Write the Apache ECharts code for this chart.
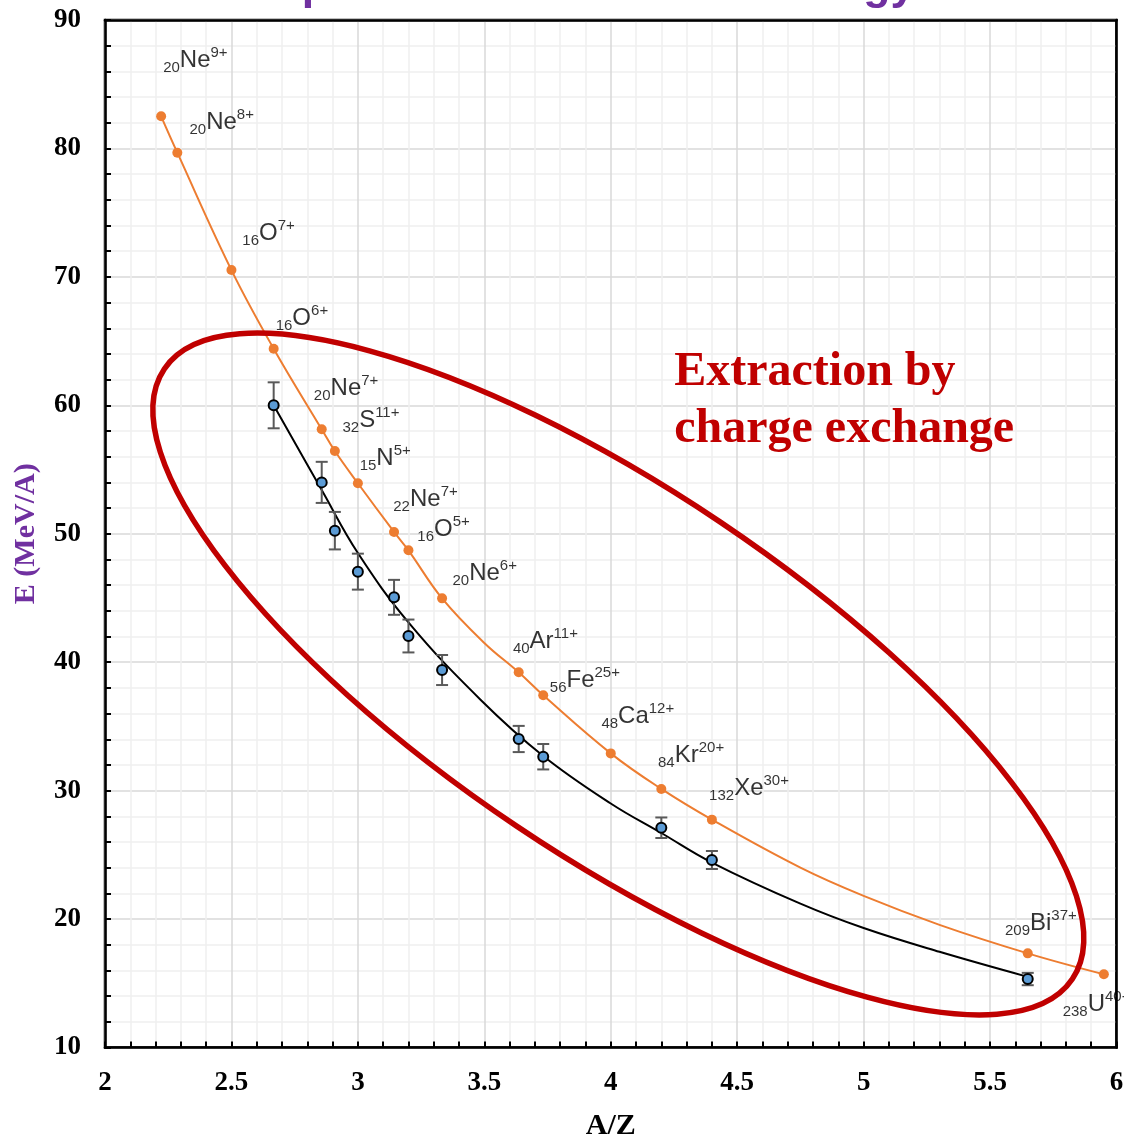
<!DOCTYPE html>
<html><head><meta charset="utf-8">
<script src="https://cdn.jsdelivr.net/npm/echarts@6/dist/echarts.min.js"></script>
<style>html,body{margin:0;padding:0;background:#fff}#c{width:1124px;height:1139px}</style>
</head><body><div id="c"></div>
<script>
// Accelerated beam (orange markers): A/Z and energy
const orangeAZ = [2.222, 2.286, 2.5, 2.667, 2.857, 2.909, 3.0, 3.143, 3.2, 3.333, 3.636, 3.733, 4.0, 4.2, 4.4, 5.649, 5.95];
const orangeE  = [82.5, 79.67, 70.53, 64.41, 58.13, 56.44, 53.93, 50.14, 48.71, 44.97, 39.21, 37.42, 32.9, 30.13, 27.74, 17.33, 15.7];
// Orange smoothed curve
const orangeCurveAZ = [2.222, 2.286, 2.5, 2.667, 2.857, 2.909, 3.0, 3.143, 3.2, 3.333, 3.5, 3.636, 3.733, 4.0, 4.2, 4.4, 4.75, 5.0, 5.3, 5.649, 5.95];
const orangeCurveE  = [82.5, 79.67, 70.53, 64.41, 58.13, 56.44, 53.93, 50.14, 48.71, 44.97, 41.5, 39.21, 37.42, 32.9, 30.13, 27.74, 24.0, 21.8, 19.55, 17.33, 15.7];
// Measured extraction by charge exchange (blue points with error bars)
const measAZ  = [2.667, 2.857, 2.909, 3.0, 3.143, 3.2, 3.333, 3.636, 3.733, 4.2, 4.4, 5.649];
const measE   = [60.0, 54.0, 50.24, 47.05, 45.05, 42.04, 39.39, 34.02, 32.64, 27.11, 24.6, 15.33];
const measErr = [1.79, 1.6, 1.46, 1.4, 1.36, 1.28, 1.17, 1.02, 0.99, 0.8, 0.7, 0.48];
// Trend curve through measured points
const fitAZ = [2.667, 2.857, 3.0, 3.2, 3.484, 3.733, 4.0, 4.2, 4.4, 4.75, 5.0, 5.3, 5.649];
const fitE  = [60.0, 53.4, 48.5, 43.1, 37.1, 32.7, 29.0, 26.7, 24.4, 21.2, 19.3, 17.45, 15.5];
// Ion labels (as placed in the picture)
const labelMass   = ['20','20','16','16','20','32','15','22','16','20','40','56','48','84','132','209','238'];
const labelElem   = ['Ne','Ne','O','O','Ne','S','N','Ne','O','Ne','Ar','Fe','Ca','Kr','Xe','Bi','U'];
const labelCharge = ['9+','8+','7+','6+','7+','11+','5+','7+','5+','6+','11+','25+','12+','20+','30+','37+','40+'];
const labelAZ = [2.228, 2.332, 2.541, 2.673, 2.824, 2.937, 3.005, 3.138, 3.233, 3.372, 3.611, 3.757, 3.961, 4.185, 4.387, 5.557, 5.785];
const labelE  = [86.98, 82.17, 73.57, 66.9, 61.45, 58.96, 56.0, 52.86, 50.52, 47.1, 41.8, 38.77, 35.97, 32.93, 30.36, 19.85, 13.5];
// Annotation
const annotationLines = ['Extraction by', 'charge exchange'];
const annotationAZ = 4.251;
const annotationE = [62.53, 58.09];
const ellipseCenter = [4.03, 39.08];
const titleText = 'Ion species and extraction energy';

const chart = echarts.init(document.getElementById('c'), null, {renderer: 'canvas'});
const serif = '"Liberation Serif", "Times New Roman", serif';
const sans = '"Liberation Sans", Arial, sans-serif';

const frameAxis = {
  type: 'value', axisLine: {show: true, onZero: false, lineStyle: {color: '#000', width: 2.5}},
  axisTick: {show: false}, axisLabel: {show: false}, splitLine: {show: false}, z: 10
};

chart.setOption({
  animation: false,
  backgroundColor: '#fff',
  grid: {left: 105, right: 7.5, top: 20, bottom: 91.5, outerBoundsMode: 'none', containLabel: false,
         show: true, borderColor: '#000', borderWidth: 2.5, backgroundColor: 'transparent'},
  xAxis: [{
    type: 'value', min: 2, max: 6, interval: 0.5,
    name: 'A/Z', nameLocation: 'middle', nameGap: 64,
    nameTextStyle: {fontFamily: serif, fontWeight: 'bold', fontSize: 30, color: '#000'},
    axisLine: {show: true, onZero: false, lineStyle: {color: '#000', width: 2.5}},
    axisTick: {show: true, inside: true, length: 6, lineStyle: {color: '#000', width: 2}},
    minorTick: {show: true, splitNumber: 5, length: 6, lineStyle: {color: '#000', width: 2}},
    axisLabel: {fontFamily: serif, fontWeight: 'bold', fontSize: 27, color: '#000', margin: 22},
    splitLine: {show: true, lineStyle: {color: '#d9d9d9', width: 1.5}},
    minorSplitLine: {show: true, lineStyle: {color: '#efefef', width: 1.5}}
  }, Object.assign({position: 'top', min: 2, max: 6}, frameAxis)],
  yAxis: [{
    type: 'value', min: 10, max: 90, interval: 10,
    name: 'E (MeV/A)', nameLocation: 'middle', nameGap: 64,
    nameTextStyle: {fontFamily: serif, fontWeight: 'bold', fontSize: 30, color: '#7030a0'},
    axisLine: {show: true, onZero: false, lineStyle: {color: '#000', width: 2.5}},
    axisTick: {show: true, inside: true, length: 6, lineStyle: {color: '#000', width: 2}},
    minorTick: {show: true, splitNumber: 5, length: 6, lineStyle: {color: '#000', width: 2}},
    axisLabel: {fontFamily: serif, fontWeight: 'bold', fontSize: 27, color: '#000', margin: 24},
    splitLine: {show: true, lineStyle: {color: '#d9d9d9', width: 1.5}},
    minorSplitLine: {show: true, lineStyle: {color: '#efefef', width: 1.5}}
  }, Object.assign({position: 'right', min: 10, max: 90}, frameAxis)],
  series: [
    {
      type: 'line', name: 'beamCurve', smooth: 0.4, z: 4,
      data: orangeCurveAZ.map((x, i) => [x, orangeCurveE[i]]),
      symbol: 'none',
      lineStyle: {color: '#ed7d31', width: 2}
    },
    {
      type: 'scatter', name: 'beam', z: 4,
      data: orangeAZ.map((x, i) => [x, orangeE[i]]),
      symbol: 'circle', symbolSize: 10,
      itemStyle: {color: '#ed7d31', borderWidth: 0, opacity: 1}
    },
    {
      type: 'line', name: 'fit', smooth: 0.4, z: 3,
      data: fitAZ.map((x, i) => [x, fitE[i]]),
      symbol: 'none',
      lineStyle: {color: '#000', width: 2}
    },
    {
      type: 'custom', name: 'err', z: 5,
      data: measAZ.map((x, i) => [x, measE[i] - measErr[i], measE[i] + measErr[i]]),
      renderItem: function (params, api) {
        const lo = api.coord([api.value(0), api.value(1)]);
        const hi = api.coord([api.value(0), api.value(2)]);
        const w = 6;
        const st = {stroke: '#595959', lineWidth: 2};
        return {type: 'group', children: [
          {type: 'line', shape: {x1: lo[0], y1: lo[1], x2: hi[0], y2: hi[1]}, style: st},
          {type: 'line', shape: {x1: lo[0] - w, y1: lo[1], x2: lo[0] + w, y2: lo[1]}, style: st},
          {type: 'line', shape: {x1: hi[0] - w, y1: hi[1], x2: hi[0] + w, y2: hi[1]}, style: st}
        ]};
      }
    },
    {
      type: 'scatter', name: 'measured', z: 6,
      data: measAZ.map((x, i) => [x, measE[i]]),
      symbol: 'circle', symbolSize: 10,
      itemStyle: {color: '#5b9bd5', borderColor: '#000', borderWidth: 2, opacity: 1}
    },
    {
      type: 'scatter', name: 'labels', z: 8, silent: true,
      symbolSize: 1, itemStyle: {color: 'rgba(0,0,0,0)'},
      data: labelAZ.map((x, i) => ({
        value: [x, labelE[i]],
        label: {formatter: '{sub|' + labelMass[i] + '}{main|' + labelElem[i] + '}{sup|' + labelCharge[i] + '}'}
      })),
      label: {
        show: true, position: 'right', distance: 0, lineHeight: 30, offset: [0, 2],
        rich: {
          main: {fontFamily: sans, fontSize: 24, lineHeight: 30, color: '#000'},
          sub: {fontFamily: sans, fontSize: 15, lineHeight: 16, verticalAlign: 'bottom', color: '#000'},
          sup: {fontFamily: sans, fontSize: 15, lineHeight: 24, verticalAlign: 'top', color: '#000'}
        }
      }
    }
  ]
});

function drawGraphics() {
  const c = chart.convertToPixel({gridIndex: 0}, ellipseCenter);
  const a1 = chart.convertToPixel({gridIndex: 0}, [annotationAZ, annotationE[0]]);
  const a2 = chart.convertToPixel({gridIndex: 0}, [annotationAZ, annotationE[1]]);
  chart.setOption({
    graphic: [
      {type: 'ellipse', x: c[0], y: c[1], rotation: -33.9 * Math.PI / 180, z: 7,
       shape: {cx: 0, cy: 0, rx: 547, ry: 183},
       style: {fill: 'none', stroke: '#c00000', lineWidth: 5.5}},
      {type: 'text', x: a1[0], y: a1[1], z: 9,
       style: {text: annotationLines[0], font: 'bold 48px ' + serif, fill: '#c00000', align: 'left', verticalAlign: 'middle'}},
      {type: 'text', x: a2[0], y: a2[1], z: 9,
       style: {text: annotationLines[1], font: 'bold 48px ' + serif, fill: '#c00000', align: 'left', verticalAlign: 'middle'}},
      {type: 'text', x: 198, y: -13, z: 9,
       style: {text: titleText, font: 'bold 44.5px ' + sans, fill: '#7030a0', align: 'left', verticalAlign: 'middle'}}
    ]
  });
}
drawGraphics();
</script>
</body></html>
